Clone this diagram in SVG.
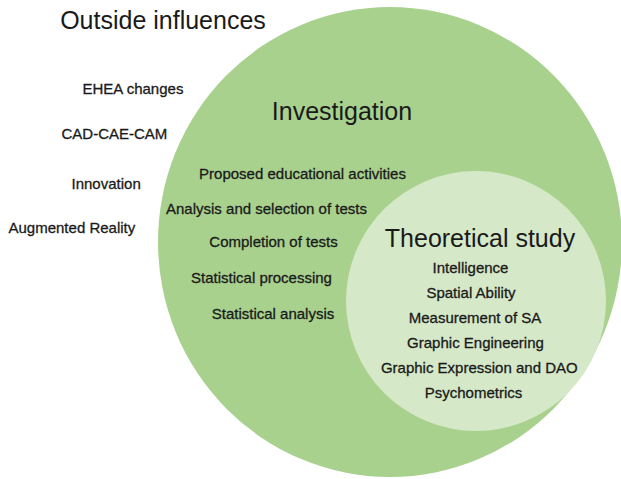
<svg xmlns="http://www.w3.org/2000/svg" width="621" height="479" viewBox="0 0 621 479">
  <style>
    text { font-family: "Liberation Sans", Arial, Helvetica, sans-serif; fill: #1a1a1a; text-anchor: middle; }
    .title { font-size: 25px; }
    .item { font-size: 15px; stroke: #1a1a1a; stroke-width: 0.3px; }
    .left { text-anchor: start; }
  </style>
  <rect width="621" height="479" fill="#ffffff"/>

  <!-- Outer context: influences outside the research -->
  <g id="outside">
    <text class="title" x="163" y="29">Outside influences</text>
    <text class="item left" x="82.5" y="93.5">EHEA changes</text>
    <text class="item left" x="61.5" y="139">CAD-CAE-CAM</text>
    <text class="item left" x="71.5" y="189">Innovation</text>
    <text class="item left" x="8.5" y="233">Augmented Reality</text>
  </g>

  <!-- Investigation set -->
  <g id="investigation">
    <ellipse cx="390" cy="242" rx="232" ry="235" fill="#a9d18e"/>
    <text class="title" x="342" y="119.5">Investigation</text>
    <text class="item" x="302.5" y="178.5">Proposed educational activities</text>
    <text class="item" x="266.5" y="213.5">Analysis and selection of tests</text>
    <text class="item" x="273.5" y="247">Completion of tests</text>
    <text class="item" x="261.5" y="283">Statistical processing</text>
    <text class="item" x="273" y="318.5">Statistical analysis</text>
  </g>

  <!-- Theoretical study subset -->
  <g id="theoretical-study">
    <circle cx="476" cy="301" r="130" fill="#d5e8c8"/>
    <text class="title" x="480" y="247">Theoretical study</text>
    <text class="item" x="470.5" y="273">Intelligence</text>
    <text class="item" x="471" y="298">Spatial Ability</text>
    <text class="item" x="475" y="323">Measurement of SA</text>
    <text class="item" x="475.5" y="348">Graphic Engineering</text>
    <text class="item" x="479.3" y="373">Graphic Expression and DAO</text>
    <text class="item" x="473.5" y="398">Psychometrics</text>
  </g>
</svg>
